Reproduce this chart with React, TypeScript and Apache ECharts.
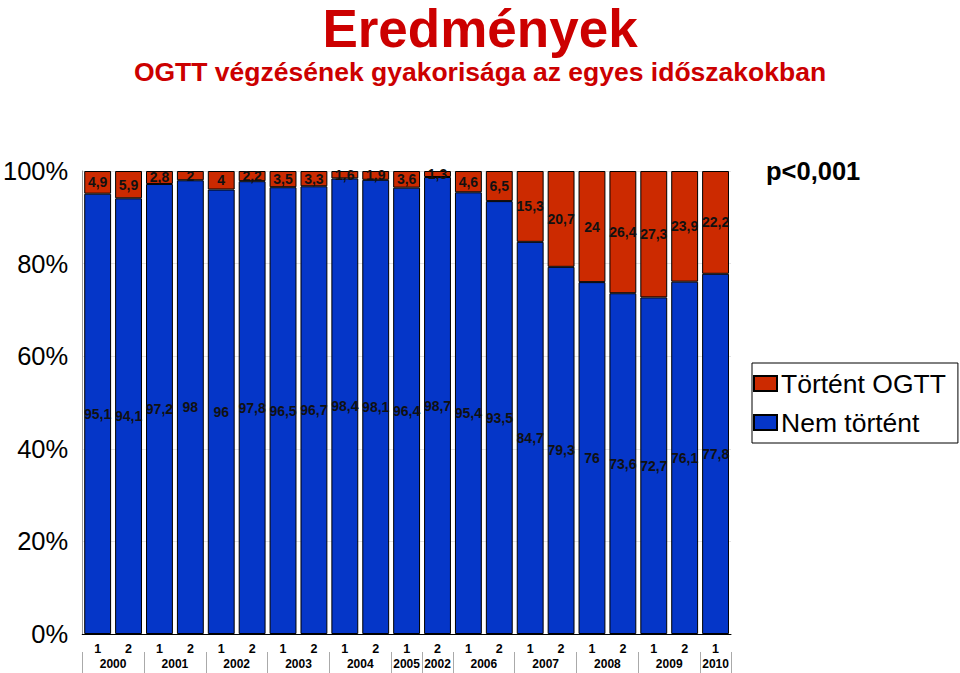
import React, { useEffect, useRef } from "react";
import * as echarts from "echarts";

const periods = ["1","2","1","2","1","2","1","2","1","2","1","2","1","2","1","2","1","2","1","2","1"];
const yearGroups = ["2000","2001","2002","2003","2004","2005","2002","2006","2007","2008","2009","2010"];
const groupSizes = [2,2,2,2,2,1,1,2,2,2,2,1];
const nemTortent = [95.1,94.1,97.2,98,96,97.8,96.5,96.7,98.4,98.1,96.4,98.7,95.4,93.5,84.7,79.3,76,73.6,72.7,76.1,77.8];
const tortentOGTT = [4.9,5.9,2.8,2,4,2.2,3.5,3.3,1.6,1.9,3.6,1.3,4.6,6.5,15.3,20.7,24,26.4,27.3,23.9,22.2];
const yTicks = [0,20,40,60,80,100];

const RED = "#CC2A00";
const BLUE = "#0536C8";
const FONT = "Liberation Sans, Arial, sans-serif";

export default function App() {
  const ref = useRef<HTMLDivElement>(null);
  useEffect(() => {
    if (!ref.current) return;
    const chart = echarts.init(ref.current, null, { renderer: "svg" });

    const n = periods.length;
    const halfCats: string[] = new Array(2 * n + 1).fill("");
    const sepIdx = new Set<number>();
    const labelIdx = new Set<number>();
    let pos = 0;
    sepIdx.add(0);
    groupSizes.forEach((s, g) => {
      const center = pos * 2 + s;
      halfCats[center] = yearGroups[g];
      labelIdx.add(center);
      pos += s;
      sepIdx.add(pos * 2);
    });

    const fmt = (p: any) => String(p.value).replace(".", ",");

    chart.setOption({
      animation: false,
      textStyle: { fontFamily: FONT },
      title: [
        { text: "Eredmények", left: "center", top: -3, textStyle: { color: "#CC0000", fontSize: 53, fontWeight: "bold", fontFamily: FONT } },
        { text: "OGTT végzésének gyakorisága az egyes időszakokban", left: "center", top: 53, textStyle: { color: "#CC0000", fontSize: 26.5, fontWeight: "bold", fontFamily: FONT } },
        { text: "p<0,001", left: 761, top: 153, textStyle: { color: "#000", fontSize: 25.5, fontWeight: "bold", fontFamily: FONT } },
      ],
      legend: {
        data: ["Történt OGTT", "Nem történt"],
        orient: "vertical",
        left: 752,
        top: 363,
        width: 206,
        borderColor: "#000",
        borderWidth: 1,
        padding: [7, 12, 7, 1],
        itemWidth: 23,
        itemHeight: 15,
        itemGap: 12,
        icon: "rect",
        textStyle: { fontSize: 26.5, color: "#000", fontFamily: FONT, padding: [0, 0, 0, -1] },
      },
      grid: { left: 82, right: 229, top: 171, bottom: 39 },
      xAxis: [
        {
          type: "category",
          data: periods,
          axisLine: { lineStyle: { color: "#000" } },
          axisTick: { show: false },
          axisLabel: { color: "#000", fontSize: 12.5, fontWeight: "bold", margin: 8, interval: 0 },
        },
        {
          type: "category",
          data: halfCats,
          boundaryGap: false,
          position: "bottom",
          offset: 18,
          axisLine: { show: false },
          axisTick: { show: true, length: 21, lineStyle: { color: "#aaa" }, interval: (i: number) => sepIdx.has(i) },
          axisLabel: { color: "#000", fontSize: 12, fontWeight: "bold", margin: 6, interval: (i: number) => labelIdx.has(i), showMinLabel: true, showMaxLabel: true },
          splitLine: { show: false },
        },
      ],
      yAxis: {
        type: "value",
        min: yTicks[0],
        max: yTicks[yTicks.length - 1],
        interval: 20,
        axisLine: { show: true, lineStyle: { color: "#999" } },
        axisTick: { show: false },
        splitLine: { show: true, lineStyle: { color: "#e4e4e4" } },
        axisLabel: { formatter: "{value}%", color: "#000", fontSize: 25.5, margin: 14 },
      },
      series: [
        {
          name: "Nem történt",
          type: "bar",
          stack: "a",
          data: nemTortent,
          barCategoryGap: "13%",
          itemStyle: { color: BLUE, borderColor: "#000", borderWidth: 1 },
          label: { show: true, position: "inside", formatter: fmt, color: "#111", fontSize: 14, fontWeight: "bold" },
        },
        {
          name: "Történt OGTT",
          type: "bar",
          stack: "a",
          data: tortentOGTT,
          barCategoryGap: "13%",
          itemStyle: { color: RED, borderColor: "#000", borderWidth: 1 },
          label: { show: true, position: "inside", formatter: fmt, color: "#111", fontSize: 14, fontWeight: "bold" },
        },
      ],
    });
    return () => chart.dispose();
  }, []);
  return <div ref={ref} style={{ width: 960, height: 673, position: "absolute", left: 0, top: 0 }} />;
}
